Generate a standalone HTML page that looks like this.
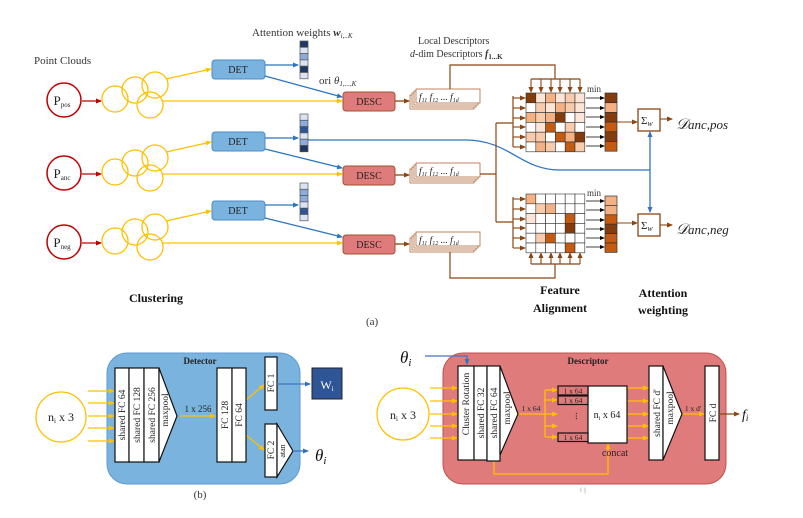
<!DOCTYPE html>
<html><head><meta charset="utf-8"><style>
html,body{margin:0;padding:0;background:#fff;}
svg{display:block;font-family:"Liberation Serif",serif;}
</style></head><body>
<svg width="803" height="518" viewBox="0 0 803 518" xmlns="http://www.w3.org/2000/svg">
<defs>
<marker id="ay" markerWidth="6" markerHeight="6" refX="5" refY="3" orient="auto" markerUnits="userSpaceOnUse"><path d="M0,0.5 L6,3 L0,5.5z" fill="#ffc000"/></marker>
<marker id="ab" markerWidth="6" markerHeight="6" refX="5" refY="3" orient="auto" markerUnits="userSpaceOnUse"><path d="M0,0.5 L6,3 L0,5.5z" fill="#2e75c0"/></marker>
<marker id="ar" markerWidth="6" markerHeight="6" refX="5" refY="3" orient="auto" markerUnits="userSpaceOnUse"><path d="M0,0.5 L6,3 L0,5.5z" fill="#c00000"/></marker>
<marker id="an" markerWidth="6" markerHeight="6" refX="5" refY="3" orient="auto" markerUnits="userSpaceOnUse"><path d="M0,0.5 L6,3 L0,5.5z" fill="#8b4513"/></marker>
<marker id="ak" markerWidth="5" markerHeight="5" refX="4" refY="2.5" orient="auto" markerUnits="userSpaceOnUse"><path d="M0,0.5 L5,2.5 L0,4.5z" fill="#000"/></marker>
</defs>

<!-- Top (a) -->
<text x="34" y="64" font-size="11" fill="#333">Point Clouds</text>
<text x="252" y="36" font-size="11" fill="#333">Attention weights <tspan font-style="italic" font-weight="bold">w</tspan><tspan font-size="7" font-style="italic" dy="2">i,..K</tspan></text>
<text x="319" y="84" font-size="11" fill="#333">ori <tspan font-style="italic">θ</tspan><tspan font-size="7" font-style="italic" dy="2">1,...,K</tspan></text>
<text x="418" y="44" font-size="10" fill="#333">Local Descriptors</text>
<text x="410" y="57" font-size="10" fill="#333"><tspan font-style="italic">d</tspan>-dim Descriptors <tspan font-weight="bold" font-style="italic">f</tspan><tspan font-size="7" font-weight="bold" dy="2">1...K</tspan></text>

<g stroke="#c00000" stroke-width="1.5" fill="#fff">
<circle cx="64" cy="100" r="17"/><circle cx="64" cy="173" r="17"/><circle cx="64" cy="242" r="17"/>
</g>
<g font-size="13" fill="#222" text-anchor="middle">
<text x="62" y="105">P<tspan font-size="7" dy="2">pos</tspan></text>
<text x="62" y="178">P<tspan font-size="7" dy="2">anc</tspan></text>
<text x="62" y="247">P<tspan font-size="7" dy="2">neg</tspan></text>
</g>
<g stroke="#c00000" stroke-width="1.3" marker-end="url(#ar)">
<line x1="82" y1="101" x2="101" y2="101"/><line x1="82" y1="174" x2="101" y2="174"/><line x1="82" y1="243" x2="101" y2="243"/>
</g>
<g fill="none" stroke="#ffc000" stroke-width="1.3">
<circle cx="115" cy="99" r="13" fill="none"/><circle cx="135" cy="90" r="13" fill="none"/><circle cx="155" cy="85" r="13" fill="none"/><circle cx="150" cy="105" r="13" fill="none"/>
<circle cx="115" cy="172" r="13" fill="none"/><circle cx="135" cy="163" r="13" fill="none"/><circle cx="155" cy="158" r="13" fill="none"/><circle cx="150" cy="178" r="13" fill="none"/>
<circle cx="115" cy="241" r="13" fill="none"/><circle cx="135" cy="232" r="13" fill="none"/><circle cx="155" cy="227" r="13" fill="none"/><circle cx="150" cy="247" r="13" fill="none"/>
</g>

<g stroke="#ffc000" stroke-width="1.3" marker-end="url(#ay)" fill="none">
<line x1="166" y1="79" x2="211" y2="69"/><line x1="166" y1="152" x2="211" y2="142"/><line x1="166" y1="221" x2="211" y2="211"/>
<line x1="163" y1="101" x2="342" y2="101"/><line x1="163" y1="174" x2="342" y2="174"/><line x1="163" y1="243" x2="342" y2="243"/>
</g>
<g fill="#7ab3de" stroke="#4a8cc8" stroke-width="1">
<rect x="212" y="60" width="53" height="19" rx="3"/><rect x="212" y="132" width="53" height="19" rx="3"/><rect x="212" y="201" width="53" height="19" rx="3"/>
</g>
<g font-size="10" fill="#222" text-anchor="middle">
<text x="238" y="73">DET</text><text x="238" y="145">DET</text><text x="238" y="214">DET</text>
</g>
<g fill="#e07b7b" stroke="#a0522d" stroke-width="1">
<rect x="343" y="92" width="52" height="19" rx="3"/><rect x="343" y="166" width="52" height="19" rx="3"/><rect x="343" y="235" width="52" height="19" rx="3"/>
</g>
<g font-size="10" fill="#222" text-anchor="middle">
<text x="369" y="105">DESC</text><text x="369" y="179">DESC</text><text x="369" y="248">DESC</text>
</g>
<g stroke="#2e75c0" stroke-width="1.3" fill="none">
<line x1="265" y1="65" x2="298" y2="65" marker-end="url(#ab)"/>
<line x1="265" y1="76" x2="342" y2="97" marker-end="url(#ab)"/>
<line x1="265" y1="138" x2="298" y2="138" marker-end="url(#ab)"/>
<line x1="265" y1="149" x2="342" y2="168" marker-end="url(#ab)"/>
<line x1="265" y1="205" x2="298" y2="205" marker-end="url(#ab)"/>
<line x1="265" y1="218" x2="342" y2="237" marker-end="url(#ab)"/>
<path d="M308,140 L465,140 C510,140 520,170 560,170 L650,170"/>
<line x1="650" y1="170" x2="650" y2="132" marker-end="url(#ab)"/>
<line x1="650" y1="170" x2="650" y2="212" marker-end="url(#ab)"/>
</g>
<!-- attention columns -->
<g stroke="#555" stroke-width="0.7">
<rect x="300" y="41" width="8" height="6.3" fill="#1f3864"/><rect x="300" y="47.3" width="8" height="6.3" fill="#dae3f3"/><rect x="300" y="53.6" width="8" height="6.3" fill="#8faadc"/><rect x="300" y="59.9" width="8" height="6.3" fill="#dae3f3"/><rect x="300" y="66.2" width="8" height="6.3" fill="#1f3864"/><rect x="300" y="72.5" width="8" height="6.3" fill="#dae3f3"/>
<rect x="300" y="114" width="8" height="6.3" fill="#dae3f3"/><rect x="300" y="120.3" width="8" height="6.3" fill="#8faadc"/><rect x="300" y="126.6" width="8" height="6.3" fill="#2f5597"/><rect x="300" y="132.9" width="8" height="6.3" fill="#dae3f3"/><rect x="300" y="139.2" width="8" height="6.3" fill="#8faadc"/><rect x="300" y="145.5" width="8" height="6.3" fill="#1f3864"/>
<rect x="300" y="183" width="8" height="6.3" fill="#dae3f3"/><rect x="300" y="189.3" width="8" height="6.3" fill="#8faadc"/><rect x="300" y="195.6" width="8" height="6.3" fill="#8faadc"/><rect x="300" y="201.9" width="8" height="6.3" fill="#dae3f3"/><rect x="300" y="208.2" width="8" height="6.3" fill="#2f5597"/><rect x="300" y="214.5" width="8" height="6.3" fill="#dae3f3"/>
</g>
<!-- brown arrows into stacks -->
<g stroke="#8b4513" stroke-width="1.3" marker-end="url(#an)">
<line x1="395" y1="101" x2="409" y2="101"/><line x1="395" y1="175" x2="409" y2="175"/><line x1="395" y1="244" x2="409" y2="244"/>
</g>
<g fill="#ffffff" stroke="#b0683a" stroke-width="0.8">
<rect x="410" y="95" width="64" height="14" fill="#ffffff"/><rect x="412" y="93" width="64" height="14" fill="#ffffff"/><rect x="414" y="91" width="64" height="14" fill="#ffffff"/><rect x="416" y="89" width="64" height="14" fill="#ffffff"/>
<rect x="410" y="169" width="64" height="14" fill="#ffffff"/><rect x="412" y="167" width="64" height="14" fill="#ffffff"/><rect x="414" y="165" width="64" height="14" fill="#ffffff"/><rect x="416" y="163" width="64" height="14" fill="#ffffff"/>
<rect x="410" y="238" width="64" height="14" fill="#ffffff"/><rect x="412" y="236" width="64" height="14" fill="#ffffff"/><rect x="414" y="234" width="64" height="14" fill="#ffffff"/><rect x="416" y="232" width="64" height="14" fill="#ffffff"/>
</g>
<g font-size="9.5" font-style="italic" fill="#222">
<text x="419" y="100">f<tspan font-size="6" dy="2">11</tspan><tspan dy="-2"> f</tspan><tspan font-size="6" dy="2">12</tspan><tspan dy="-2"> ... f</tspan><tspan font-size="6" dy="2">1d</tspan></text>
<text x="419" y="174">f<tspan font-size="6" dy="2">11</tspan><tspan dy="-2"> f</tspan><tspan font-size="6" dy="2">12</tspan><tspan dy="-2"> ... f</tspan><tspan font-size="6" dy="2">1d</tspan></text>
<text x="419" y="243">f<tspan font-size="6" dy="2">11</tspan><tspan dy="-2"> f</tspan><tspan font-size="6" dy="2">12</tspan><tspan dy="-2"> ... f</tspan><tspan font-size="6" dy="2">1d</tspan></text>
</g>
<!-- brown routing -->
<g stroke="#8b4513" stroke-width="1.2" fill="none">
<path d="M450,89 V65 H555 V79"/>
<path d="M531,79 H580"/>
<path d="M480,174 H496 M496,123 V222 M496,123 H513 M496,222 H513"/>
<path d="M513,96 V147 M513,197 V248"/>
<path d="M450,252 V278 H555 V264"/>
<path d="M531,264 H580"/>
</g>
<g stroke="#8b4513" stroke-width="1.1" marker-end="url(#an)">
<line x1="531" y1="79" x2="531" y2="92"/><line x1="541" y1="79" x2="541" y2="92"/><line x1="551" y1="79" x2="551" y2="92"/><line x1="560" y1="79" x2="560" y2="92"/><line x1="570" y1="79" x2="570" y2="92"/><line x1="580" y1="79" x2="580" y2="92"/>
<line x1="531" y1="264" x2="531" y2="253"/><line x1="541" y1="264" x2="541" y2="253"/><line x1="551" y1="264" x2="551" y2="253"/><line x1="560" y1="264" x2="560" y2="253"/><line x1="570" y1="264" x2="570" y2="253"/><line x1="580" y1="264" x2="580" y2="253"/>
<line x1="513" y1="98" x2="525" y2="98"/><line x1="513" y1="108" x2="525" y2="108"/><line x1="513" y1="118" x2="525" y2="118"/><line x1="513" y1="127" x2="525" y2="127"/><line x1="513" y1="137" x2="525" y2="137"/><line x1="513" y1="147" x2="525" y2="147"/>
<line x1="513" y1="199" x2="525" y2="199"/><line x1="513" y1="209" x2="525" y2="209"/><line x1="513" y1="219" x2="525" y2="219"/><line x1="513" y1="228" x2="525" y2="228"/><line x1="513" y1="238" x2="525" y2="238"/><line x1="513" y1="248" x2="525" y2="248"/>
<line x1="617" y1="122" x2="637" y2="122"/><line x1="617" y1="223" x2="637" y2="223"/>
<line x1="660" y1="119" x2="672" y2="119"/><line x1="660" y1="225" x2="672" y2="225"/>
</g>
<!-- matrix 1 -->
<g stroke="#333" stroke-width="0.6">
<rect x="526" y="93" width="9.8" height="9.8" fill="#843c0c"/><rect x="535.8" y="93" width="9.8" height="9.8" fill="#fbe5d6"/><rect x="545.6" y="93" width="9.8" height="9.8" fill="#f4b183"/><rect x="555.4" y="93" width="9.8" height="9.8" fill="#fbe5d6"/><rect x="565.2" y="93" width="9.8" height="9.8" fill="#f8cbad"/><rect x="575" y="93" width="9.8" height="9.8" fill="#fbe5d6"/>
<rect x="526" y="102.8" width="9.8" height="9.8" fill="#fff"/><rect x="535.8" y="102.8" width="9.8" height="9.8" fill="#f8cbad"/><rect x="545.6" y="102.8" width="9.8" height="9.8" fill="#fbe5d6"/><rect x="555.4" y="102.8" width="9.8" height="9.8" fill="#f4b183"/><rect x="565.2" y="102.8" width="9.8" height="9.8" fill="#f8cbad"/><rect x="575" y="102.8" width="9.8" height="9.8" fill="#fbe5d6"/>
<rect x="526" y="112.6" width="9.8" height="9.8" fill="#f4b183"/><rect x="535.8" y="112.6" width="9.8" height="9.8" fill="#f8cbad"/><rect x="545.6" y="112.6" width="9.8" height="9.8" fill="#f4b183"/><rect x="555.4" y="112.6" width="9.8" height="9.8" fill="#843c0c"/><rect x="565.2" y="112.6" width="9.8" height="9.8" fill="#fff"/><rect x="575" y="112.6" width="9.8" height="9.8" fill="#fbe5d6"/>
<rect x="526" y="122.4" width="9.8" height="9.8" fill="#fff"/><rect x="535.8" y="122.4" width="9.8" height="9.8" fill="#fbe5d6"/><rect x="545.6" y="122.4" width="9.8" height="9.8" fill="#c55a11"/><rect x="555.4" y="122.4" width="9.8" height="9.8" fill="#fff"/><rect x="565.2" y="122.4" width="9.8" height="9.8" fill="#f8cbad"/><rect x="575" y="122.4" width="9.8" height="9.8" fill="#fff"/>
<rect x="526" y="132.2" width="9.8" height="9.8" fill="#f8cbad"/><rect x="535.8" y="132.2" width="9.8" height="9.8" fill="#f8cbad"/><rect x="545.6" y="132.2" width="9.8" height="9.8" fill="#fff"/><rect x="555.4" y="132.2" width="9.8" height="9.8" fill="#c55a11"/><rect x="565.2" y="132.2" width="9.8" height="9.8" fill="#f4b183"/><rect x="575" y="132.2" width="9.8" height="9.8" fill="#843c0c"/>
<rect x="526" y="142" width="9.8" height="9.8" fill="#fff"/><rect x="535.8" y="142" width="9.8" height="9.8" fill="#f4b183"/><rect x="545.6" y="142" width="9.8" height="9.8" fill="#f8cbad"/><rect x="555.4" y="142" width="9.8" height="9.8" fill="#fff"/><rect x="565.2" y="142" width="9.8" height="9.8" fill="#c55a11"/><rect x="575" y="142" width="9.8" height="9.8" fill="#f8cbad"/>
</g>
<!-- matrix 2 -->
<g stroke="#333" stroke-width="0.6" fill="#fff">
<rect x="526" y="194" width="9.8" height="9.8" fill="#f4b183"/><rect x="535.8" y="194" width="9.8" height="9.8"/><rect x="545.6" y="194" width="9.8" height="9.8"/><rect x="555.4" y="194" width="9.8" height="9.8"/><rect x="565.2" y="194" width="9.8" height="9.8"/><rect x="575" y="194" width="9.8" height="9.8"/>
<rect x="526" y="203.8" width="9.8" height="9.8"/><rect x="535.8" y="203.8" width="9.8" height="9.8" fill="#f8cbad"/><rect x="545.6" y="203.8" width="9.8" height="9.8" fill="#f4b183"/><rect x="555.4" y="203.8" width="9.8" height="9.8"/><rect x="565.2" y="203.8" width="9.8" height="9.8"/><rect x="575" y="203.8" width="9.8" height="9.8"/>
<rect x="526" y="213.6" width="9.8" height="9.8" fill="#fbe5d6"/><rect x="535.8" y="213.6" width="9.8" height="9.8"/><rect x="545.6" y="213.6" width="9.8" height="9.8"/><rect x="555.4" y="213.6" width="9.8" height="9.8"/><rect x="565.2" y="213.6" width="9.8" height="9.8" fill="#c55a11"/><rect x="575" y="213.6" width="9.8" height="9.8"/>
<rect x="526" y="223.4" width="9.8" height="9.8"/><rect x="535.8" y="223.4" width="9.8" height="9.8"/><rect x="545.6" y="223.4" width="9.8" height="9.8"/><rect x="555.4" y="223.4" width="9.8" height="9.8"/><rect x="565.2" y="223.4" width="9.8" height="9.8" fill="#843c0c"/><rect x="575" y="223.4" width="9.8" height="9.8"/>
<rect x="526" y="233.2" width="9.8" height="9.8"/><rect x="535.8" y="233.2" width="9.8" height="9.8" fill="#f8cbad"/><rect x="545.6" y="233.2" width="9.8" height="9.8" fill="#c55a11"/><rect x="555.4" y="233.2" width="9.8" height="9.8"/><rect x="565.2" y="233.2" width="9.8" height="9.8"/><rect x="575" y="233.2" width="9.8" height="9.8"/>
<rect x="526" y="243" width="9.8" height="9.8"/><rect x="535.8" y="243" width="9.8" height="9.8"/><rect x="545.6" y="243" width="9.8" height="9.8"/><rect x="555.4" y="243" width="9.8" height="9.8"/><rect x="565.2" y="243" width="9.8" height="9.8" fill="#c55a11"/><rect x="575" y="243" width="9.8" height="9.8"/>
</g>
<!-- min arrows -->
<g stroke="#000" stroke-width="0.8" marker-end="url(#ak)">
<line x1="586" y1="98" x2="604" y2="98"/><line x1="586" y1="108" x2="604" y2="108"/><line x1="586" y1="117" x2="604" y2="117"/><line x1="586" y1="127" x2="604" y2="127"/><line x1="586" y1="137" x2="604" y2="137"/><line x1="586" y1="146" x2="604" y2="146"/>
<line x1="586" y1="201" x2="604" y2="201"/><line x1="586" y1="210" x2="604" y2="210"/><line x1="586" y1="220" x2="604" y2="220"/><line x1="586" y1="229" x2="604" y2="229"/><line x1="586" y1="238" x2="604" y2="238"/><line x1="586" y1="247" x2="604" y2="247"/>
</g>
<text x="587" y="92" font-size="9" fill="#333">min</text>
<text x="587" y="196" font-size="9" fill="#333">min</text>
<g stroke="#333" stroke-width="0.7">
<rect x="605" y="93" width="12" height="9.7" fill="#843c0c"/><rect x="605" y="102.7" width="12" height="9.7" fill="#f4b183"/><rect x="605" y="112.4" width="12" height="9.7" fill="#843c0c"/><rect x="605" y="122.1" width="12" height="9.7" fill="#c55a11"/><rect x="605" y="131.8" width="12" height="9.7" fill="#843c0c"/><rect x="605" y="141.5" width="12" height="9.7" fill="#c55a11"/>
<rect x="605" y="196" width="12" height="9.4" fill="#f4b183"/><rect x="605" y="205.4" width="12" height="9.4" fill="#f4b183"/><rect x="605" y="214.8" width="12" height="9.4" fill="#c55a11"/><rect x="605" y="224.2" width="12" height="9.4" fill="#843c0c"/><rect x="605" y="233.6" width="12" height="9.4" fill="#c55a11"/><rect x="605" y="243" width="12" height="9.4" fill="#c55a11"/>
</g>
<g fill="#fff" stroke="#8b4513" stroke-width="1.3">
<rect x="638" y="109" width="22" height="22"/><rect x="638" y="214" width="22" height="22"/>
</g>
<g font-size="11" fill="#222">
<text x="641" y="124">Σ<tspan font-style="italic" font-size="8" dy="2">w</tspan></text>
<text x="641" y="229">Σ<tspan font-style="italic" font-size="8" dy="2">w</tspan></text>
</g>
<g font-size="15" font-style="italic" fill="#222">
<text x="676" y="129">𝒟<tspan font-size="13">anc,pos</tspan></text>
<text x="676" y="234">𝒟<tspan font-size="13">anc,neg</tspan></text>
</g>
<g font-size="12" font-weight="bold" fill="#111" text-anchor="middle">
<text x="156" y="302">Clustering</text>
<text x="560" y="294">Feature</text><text x="560" y="312">Alignment</text>
<text x="663" y="297">Attention</text><text x="663" y="314">weighting</text>
</g>
<text x="366" y="325" font-size="11" fill="#333">(a)</text>

<!-- (b) Detector -->
<rect x="107" y="353" width="193" height="131" rx="20" fill="#7ab3de" stroke="#5b9bd5" stroke-width="1"/>
<text x="200" y="364" font-size="9" font-weight="bold" fill="#222" text-anchor="middle">Detector</text>
<circle cx="61" cy="417" r="25" fill="#fff" stroke="#ffc000" stroke-width="1.3"/>
<text x="61" y="421" font-size="12" fill="#222" text-anchor="middle">n<tspan font-size="7" dy="2">i</tspan><tspan dy="-2"> x 3</tspan></text>
<g stroke="#ffc000" stroke-width="1.3" marker-end="url(#ay)">
<line x1="88" y1="391" x2="114" y2="391"/><line x1="88" y1="403" x2="114" y2="403"/><line x1="88" y1="416" x2="114" y2="416"/><line x1="88" y1="428" x2="114" y2="428"/><line x1="88" y1="441" x2="114" y2="441"/>
<line x1="180" y1="416" x2="215" y2="416"/>
<line x1="246" y1="400" x2="264" y2="385"/><line x1="246" y1="435" x2="264" y2="450"/>
</g>
<g fill="#fff" stroke="#111" stroke-width="1.2">
<rect x="115" y="368" width="14" height="94"/><rect x="129" y="368" width="15" height="94"/><rect x="144" y="368" width="15" height="94"/>
<path d="M159,368 L177,416 L159,462z"/>
<rect x="217" y="368" width="15" height="94"/><rect x="232" y="368" width="14" height="94"/>
<rect x="265" y="357" width="12" height="53"/><rect x="265" y="424" width="12" height="53"/>
<path d="M277,424 L293,451 L277,477z"/>
</g>
<g font-size="9.5" fill="#222" text-anchor="middle">
<text transform="translate(125,415) rotate(-90)">shared FC 64</text>
<text transform="translate(140,415) rotate(-90)">shared FC 128</text>
<text transform="translate(155,415) rotate(-90)">shared FC 256</text>
<text transform="translate(168,410) rotate(-90)">maxpool</text>
<text transform="translate(228,415) rotate(-90)">FC 128</text>
<text transform="translate(242,415) rotate(-90)">FC 64</text>
<text transform="translate(274,383) rotate(-90)">FC 1</text>
<text transform="translate(274,450) rotate(-90)">FC 2</text>
<text transform="translate(285,451) rotate(-90)" font-size="8">atan</text>
</g>
<text x="198" y="412" font-size="9" fill="#222" text-anchor="middle">1 x 256</text>
<g stroke="#4472c4" stroke-width="1.3" marker-end="url(#ab)">
<line x1="277" y1="384" x2="310" y2="384"/><line x1="293" y1="451" x2="308" y2="451"/>
</g>
<rect x="312" y="368" width="30" height="31" fill="#2f5597" stroke="#222" stroke-width="1"/>
<text x="327" y="389" font-size="12" fill="#fff" text-anchor="middle">W<tspan font-size="7" dy="2">i</tspan></text>
<text x="315" y="461" font-size="17" font-style="italic" fill="#111">θ<tspan font-size="11" dy="3">i</tspan></text>
<text x="200" y="498" font-size="11" fill="#333" text-anchor="middle">(b)</text>

<!-- Descriptor -->
<rect x="443" y="353" width="283" height="131" rx="20" fill="#e07b7b" stroke="#c0504d" stroke-width="1"/>
<text x="588" y="364" font-size="9" font-weight="bold" fill="#222" text-anchor="middle">Descriptor</text>
<text x="400" y="363" font-size="17" font-style="italic" fill="#111">θ<tspan font-size="11" dy="3">i</tspan></text>
<path d="M425,356 H467 V364" stroke="#4472c4" stroke-width="1.3" fill="none" marker-end="url(#ab)"/>
<circle cx="403" cy="414" r="26" fill="#fff" stroke="#ffc000" stroke-width="1.3"/>
<text x="403" y="419" font-size="12" fill="#222" text-anchor="middle">n<tspan font-size="7" dy="2">i</tspan><tspan dy="-2"> x 3</tspan></text>
<g stroke="#ffc000" stroke-width="1.3" marker-end="url(#ay)" fill="none">
<line x1="430" y1="388" x2="457" y2="388"/><line x1="430" y1="401" x2="457" y2="401"/><line x1="430" y1="414" x2="457" y2="414"/><line x1="430" y1="426" x2="457" y2="426"/><line x1="430" y1="438" x2="457" y2="438"/>
<line x1="545" y1="390" x2="557" y2="390"/><line x1="545" y1="400" x2="557" y2="400"/><line x1="545" y1="414" x2="557" y2="414"/><line x1="545" y1="426" x2="557" y2="426"/><line x1="545" y1="437" x2="557" y2="437"/>
<line x1="627" y1="388" x2="648" y2="388"/><line x1="627" y1="401" x2="648" y2="401"/><line x1="627" y1="414" x2="648" y2="414"/><line x1="627" y1="426" x2="648" y2="426"/><line x1="627" y1="438" x2="648" y2="438"/>
<line x1="682" y1="414" x2="704" y2="414"/>
<path d="M494,461 V474 H608 V444"/>
</g>
<g stroke="#ffc000" stroke-width="1.3" fill="none">
<path d="M518,414 H545 M545,390 V437"/>
</g>
<g fill="#fff" stroke="#111" stroke-width="1.2">
<rect x="458" y="366" width="16" height="94"/><rect x="474" y="366" width="13" height="94"/><rect x="487" y="366" width="13" height="95"/>
<path d="M500,366 L518,414 L500,455z"/>
<rect x="588" y="386" width="39" height="57"/>
<rect x="649" y="366" width="14" height="94"/>
<path d="M663,366 L682,414 L663,460z"/>
<rect x="705" y="366" width="14" height="94"/>
</g>
<g fill="#e07b7b" stroke="#111" stroke-width="1.2">
<rect x="558" y="386" width="30" height="9"/><rect x="558" y="396" width="30" height="8.5"/><rect x="558" y="433" width="30" height="8.5"/>
</g>
<g font-size="7.5" fill="#222" text-anchor="middle">
<text x="573" y="393.5">1 x 64</text><text x="573" y="403">1 x 64</text><text x="573" y="440">1 x 64</text>
</g>
<text x="574" y="419" font-size="10" fill="#222" text-anchor="middle" transform="rotate(-90 574 416)">...</text>
<text x="607" y="418" font-size="10" fill="#222" text-anchor="middle">n<tspan font-size="6" dy="2">i</tspan><tspan dy="-2"> x 64</tspan></text>
<text x="615" y="456" font-size="10" fill="#222" text-anchor="middle">concat</text>
<text x="531" y="411" font-size="7.5" fill="#222" text-anchor="middle">1 x 64</text>
<text x="693" y="411" font-size="7.5" fill="#222" text-anchor="middle">1 x d'</text>
<g font-size="9.5" fill="#222" text-anchor="middle">
<text transform="translate(469,404) rotate(-90)">Cluster Rotation</text>
<text transform="translate(484,413) rotate(-90)">shared FC 32</text>
<text transform="translate(497,413) rotate(-90)">shared FC 64</text>
<text transform="translate(510,408) rotate(-90)">maxpool</text>
<text transform="translate(660,413) rotate(-90)">shared FC d'</text>
<text transform="translate(673,408) rotate(-90)">maxpool</text>
<text transform="translate(716,413) rotate(-90)">FC d</text>
</g>
<line x1="719" y1="414" x2="739" y2="414" stroke="#8b4513" stroke-width="1.3" marker-end="url(#an)"/>
<text x="742" y="419" font-size="14" font-style="italic" fill="#111">f<tspan font-size="9" dy="2">i</tspan></text>
<text x="580" y="492" font-size="6" fill="#999">f  ||</text>
</svg>
</body></html>
